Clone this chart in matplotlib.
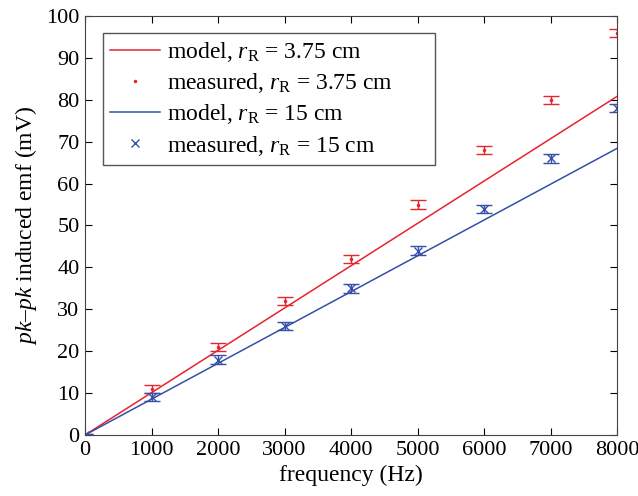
import matplotlib
matplotlib.use("Agg")
import matplotlib.pyplot as plt
from matplotlib.lines import Line2D

plt.rcParams['font.family'] = 'Liberation Serif'
plt.rcParams['mathtext.fontset'] = 'custom'
plt.rcParams['mathtext.rm'] = 'Liberation Serif'
plt.rcParams['mathtext.it'] = 'Liberation Serif:italic'

freq = [0, 1000, 2000, 3000, 4000, 5000, 6000, 7000, 8000]

# model curves
model_small = [0, 10.1, 20.2, 30.3, 40.4, 50.5, 60.6, 70.7, 80.8]
model_large = [0, 8.55, 17.1, 25.65, 34.2, 42.75, 51.3, 59.85, 68.4]

# measurements
meas_small = [0, 11, 21, 32, 42, 55, 68, 80, 96]
err_small = [0.3, 1, 1, 1, 1, 1, 1, 1, 1]
meas_large = [0, 9, 18, 26, 35, 44, 54, 66, 78]
err_large = [0.3, 1, 1, 1, 1, 1, 1, 1, 1]

red = '#e8232b'
blue = '#3550a8'
fs = 17

fig = plt.figure(figsize=(6.38, 4.96), dpi=100)
ax = fig.add_axes([85 / 638, 61 / 496, 532 / 638, 419 / 496])

ax.plot(freq, model_small, color=red, lw=1.1)
ax.errorbar(freq, meas_small, yerr=err_small, fmt='.', color=red, ms=3, capsize=5.5,
            elinewidth=1)
ax.plot(freq, model_large, color=blue, lw=1.1)
ax.errorbar(freq, meas_large, yerr=err_large, fmt='x', color=blue, ms=6, capsize=5.5,
            elinewidth=1)

ax.set_xlim(0, 8000)
ax.set_ylim(0, 100)
ax.set_xticks(range(0, 8001, 1000))
ax.set_yticks(range(0, 101, 10))
ax.tick_params(direction='in', top=True, right=True, labelsize=16, length=5, pad=4)
for s in ax.spines.values():
    s.set_color('#444444')

ax.set_xlabel('frequency (Hz)', fontsize=fs, labelpad=4)
ax.set_ylabel(r'$\mathit{pk}$–$\mathit{pk}$ induced emf (mV)', fontsize=fs, labelpad=5)

handles = [
    Line2D([], [], color=red, lw=1.1),
    Line2D([], [], color=red, marker='.', ms=3, ls='none'),
    Line2D([], [], color=blue, lw=1.1),
    Line2D([], [], color=blue, marker='x', ms=6, ls='none'),
]
labels = [
    r'model, $r_{\mathrm{R}}$ = 3.75 cm',
    r'measured, $r_{\mathrm{R}}$ = 3.75 cm',
    r'model, $r_{\mathrm{R}}$ = 15 cm',
    r'measured, $r_{\mathrm{R}}$ = 15 cm',
]
leg = ax.legend(handles, labels, loc='upper left', fontsize=fs, frameon=True,
                fancybox=False, edgecolor='#555555', framealpha=1,
                handlelength=2.1, handletextpad=0.3, borderpad=0.3,
                labelspacing=0.3, borderaxespad=0, mode='expand',
                bbox_to_anchor=(0.034, 0.0, 0.624, 0.959))
leg.get_frame().set_linewidth(1)

fig.savefig('out.png', dpi=100)
